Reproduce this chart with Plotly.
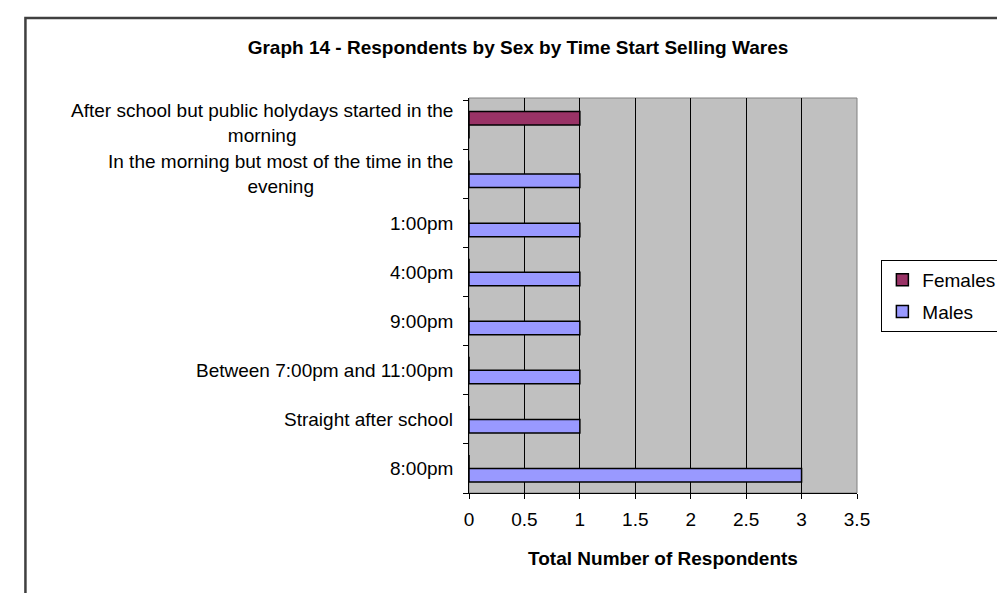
import plotly.graph_objects as go

# categories, listed bottom to top as drawn
categories = [
    "8:00pm",
    "Straight after school",
    "Between 7:00pm and 11:00pm",
    "9:00pm",
    "4:00pm",
    "1:00pm",
    "In the morning but most of the time in the<br>evening",
    "After school but public holydays started in the<br>morning",
]
males = [3, 1, 1, 1, 1, 1, 1, 0]
females = [0, 0, 0, 0, 0, 0, 0, 1]

x_ticks = [0, 0.5, 1, 1.5, 2, 2.5, 3, 3.5]

FONT = "Arial, Liberation Sans, sans-serif"

# pixel layout of the plot area
L, R, T, B = 461, 859, 90, 485
W, H = 1005, 593
pw = R - L

def px_x(p):
    return (p - L) / pw

fig = go.Figure()
fig.add_trace(go.Bar(
    y=categories, x=males, orientation="h", name="Males",
    marker=dict(color="#9999FF", line=dict(color="black", width=1.5)),
    legendgroup="m", legendrank=2,
))
fig.add_trace(go.Bar(
    y=categories, x=females, orientation="h", name="Females",
    marker=dict(color="#993366", line=dict(color="black", width=1.5)),
    legendgroup="f", legendrank=1,
))

# y labels as annotations so multi-line ones are centered like Excel does
for cat in categories:
    fig.add_annotation(x=px_x(447), xref="paper", y=cat, yref="y",
                       text=cat, showarrow=False, xanchor="right", align="center",
                       yshift=2 if cat.startswith("After") else 0,
                       font=dict(family=FONT, size=19, color="black"))

# plot area border (grey) and outer chart frame
fig.add_shape(type="rect", xref="paper", yref="paper", x0=0, x1=1, y0=0, y1=1,
              line=dict(color="#808080", width=1), layer="below")
fig.add_shape(type="rect", xref="paper", yref="paper",
              x0=px_x(6), x1=px_x(W + 20),
              y0=(B - (H + 20)) / (B - T), y1=(B - 10) / (B - T),
              line=dict(color="#404040", width=2.5))

fig.update_layout(
    width=W, height=H,
    margin=dict(l=L, r=W - R, t=T, b=H - B),
    paper_bgcolor="white",
    plot_bgcolor="#C0C0C0",
    barmode="group",
    bargap=0.45,
    bargroupgap=0,
    font=dict(family=FONT, size=19, color="black"),
    title=dict(text="<b>Graph 14 - Respondents by Sex by Time Start Selling Wares</b>",
               x=510 / W, xanchor="center", y=1 - 39 / H, yanchor="middle",
               font=dict(family=FONT, size=19, color="black")),
    legend=dict(x=(884 - L) / pw, y=(B - 252) / (B - T), xanchor="left", yanchor="top",
                bordercolor="black", borderwidth=1, bgcolor="white",
                traceorder="grouped", tracegroupgap=4, itemwidth=30,
                font=dict(family=FONT, size=19, color="black")),
    showlegend=True,
)
fig.update_xaxes(
    range=[0, 3.5], tickvals=x_ticks, ticktext=[f"{v:g}" for v in x_ticks],
    showgrid=True, gridcolor="black", gridwidth=1, zeroline=False,
    showline=True, linecolor="black", linewidth=1,
    ticks="outside", ticklen=5, tickcolor="black", ticklabelstandoff=4,
    tickfont=dict(family=FONT, size=19, color="black"),
    title=dict(text="<b>Total Number of Respondents</b>", standoff=22,
               font=dict(family=FONT, size=19, color="black")),
)
fig.update_yaxes(
    categoryorder="array", categoryarray=categories,
    showticklabels=False, showgrid=False, zeroline=False,
    showline=True, linecolor="black", linewidth=1,
    ticks="outside", ticklen=5, tickcolor="black", tickson="boundaries",
)

fig.write_html("out.html")
